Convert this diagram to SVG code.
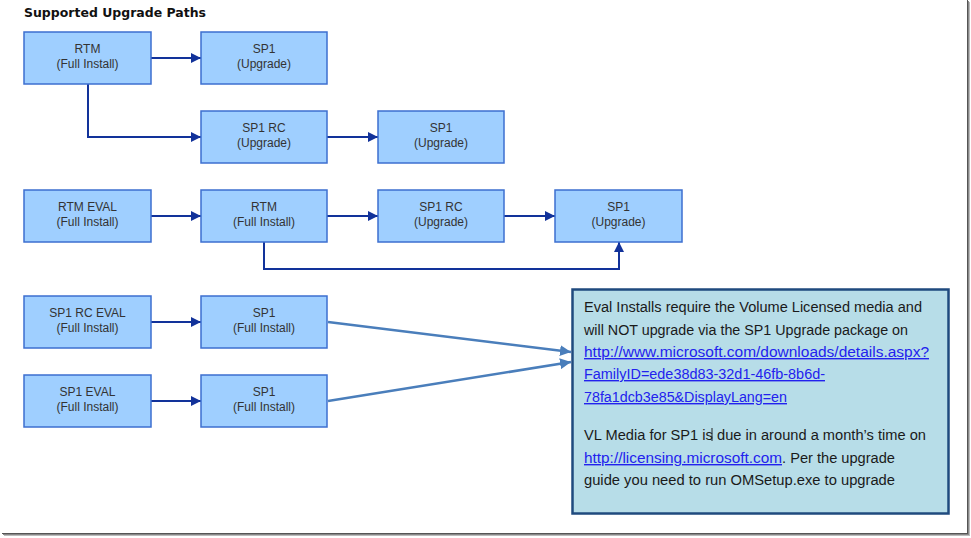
<svg xmlns="http://www.w3.org/2000/svg" width="971" height="538" viewBox="0 0 971 538">
<defs>
<marker id="ah" viewBox="0 0 10 10" refX="10" refY="5" markerWidth="10" markerHeight="10" markerUnits="userSpaceOnUse" orient="auto"><path d="M0,0 L10,5 L0,10 z" fill="#12329a"/></marker>
<marker id="ah2" viewBox="0 0 10 10" refX="10" refY="5" markerWidth="11" markerHeight="11" markerUnits="userSpaceOnUse" orient="auto"><path d="M0,0 L10,5 L0,10 z" fill="#4a7ebb"/></marker>
<style>
.box{fill:#9fcfff;stroke:#3d6fd0;stroke-width:1.5}
.lbl{font-family:"Liberation Sans",Arial,sans-serif;font-size:12px;fill:#333;text-anchor:middle}
.con{fill:none;stroke:#12329a;stroke-width:2;marker-end:url(#ah)}
.con2{fill:none;stroke:#4a7ebb;stroke-width:2.5;marker-end:url(#ah2)}
.note{font-family:"Liberation Sans",Arial,sans-serif;font-size:14px;fill:#1a1a1a}
.link{fill:#2222ee;text-decoration:underline}
</style>
</defs>
<rect width="971" height="538" fill="#fff"/>
<!-- frame -->
<g id="frame">
<line x1="967.5" y1="0" x2="967.5" y2="534" stroke="#555" stroke-width="1"/>
<line x1="968.5" y1="1" x2="968.5" y2="535" stroke="#888" stroke-width="1"/>
<line x1="969.5" y1="2" x2="969.5" y2="536" stroke="#bbb" stroke-width="1"/>
<line x1="2" y1="533.5" x2="968" y2="533.5" stroke="#555" stroke-width="1"/>
<line x1="3" y1="534.5" x2="969" y2="534.5" stroke="#888" stroke-width="1"/>
<line x1="4" y1="535.5" x2="970" y2="535.5" stroke="#bbb" stroke-width="1"/>
</g>
<text x="24" y="17" font-family="Verdana,'DejaVu Sans',sans-serif" font-size="13" font-weight="bold" fill="#111" textLength="182" lengthAdjust="spacingAndGlyphs">Supported Upgrade Paths</text>
<g id="connectors">
<path class="con" d="M151,58 H201"/>
<path class="con" d="M88,84 V137 H201"/>
<path class="con" d="M327,137 H378"/>
<path class="con" d="M151,216 H201"/>
<path class="con" d="M327,216 H378"/>
<path class="con" d="M504,216 H555"/>
<path class="con" d="M264,242 V269 H619 V242"/>
<path class="con" d="M151,322 H201"/>
<path class="con" d="M151,401 H201"/>
<path class="con2" d="M328,322 L571,352"/>
<path class="con2" d="M328,401 L571,362"/>
</g>
<g id="n1"><rect class="box" x="24" y="32" width="127" height="52"/><text class="lbl" x="87.5" y="53">RTM</text><text class="lbl" x="87.5" y="68">(Full Install)</text></g>
<g id="n2"><rect class="box" x="201" y="32" width="126" height="52"/><text class="lbl" x="264" y="53">SP1</text><text class="lbl" x="264" y="68">(Upgrade)</text></g>
<g id="n3"><rect class="box" x="201" y="111" width="126" height="52"/><text class="lbl" x="264" y="132">SP1 RC</text><text class="lbl" x="264" y="147">(Upgrade)</text></g>
<g id="n4"><rect class="box" x="378" y="111" width="126" height="52"/><text class="lbl" x="441" y="132">SP1</text><text class="lbl" x="441" y="147">(Upgrade)</text></g>
<g id="n5"><rect class="box" x="24" y="190" width="127" height="52"/><text class="lbl" x="87.5" y="211">RTM EVAL</text><text class="lbl" x="87.5" y="226">(Full Install)</text></g>
<g id="n6"><rect class="box" x="201" y="190" width="126" height="52"/><text class="lbl" x="264" y="211">RTM</text><text class="lbl" x="264" y="226">(Full Install)</text></g>
<g id="n7"><rect class="box" x="378" y="190" width="126" height="52"/><text class="lbl" x="441" y="211">SP1 RC</text><text class="lbl" x="441" y="226">(Upgrade)</text></g>
<g id="n8"><rect class="box" x="555" y="190" width="127" height="52"/><text class="lbl" x="618.5" y="211">SP1</text><text class="lbl" x="618.5" y="226">(Upgrade)</text></g>
<g id="n9"><rect class="box" x="24" y="296" width="127" height="52"/><text class="lbl" x="87.5" y="317">SP1 RC EVAL</text><text class="lbl" x="87.5" y="332">(Full Install)</text></g>
<g id="n10"><rect class="box" x="201" y="296" width="126" height="52"/><text class="lbl" x="264" y="317">SP1</text><text class="lbl" x="264" y="332">(Full Install)</text></g>
<g id="n11"><rect class="box" x="24" y="375" width="127" height="52"/><text class="lbl" x="87.5" y="396">SP1 EVAL</text><text class="lbl" x="87.5" y="411">(Full Install)</text></g>
<g id="n12"><rect class="box" x="201" y="375" width="126" height="52"/><text class="lbl" x="264" y="396">SP1</text><text class="lbl" x="264" y="411">(Full Install)</text></g>
<g id="note">
<rect x="572.5" y="289.5" width="376" height="224" fill="#b7dde8" stroke="#1f4a7e" stroke-width="2.5"/>
<text class="note" x="584" y="312" textLength="338" lengthAdjust="spacingAndGlyphs">Eval Installs require the Volume Licensed media and</text>
<text class="note" x="584" y="335" textLength="324" lengthAdjust="spacingAndGlyphs">will NOT upgrade via the SP1 Upgrade package on</text>
<text class="note link" x="584" y="357" textLength="345" lengthAdjust="spacingAndGlyphs">http://www.microsoft.com/downloads/details.aspx?</text>
<text class="note link" x="584" y="379" textLength="241" lengthAdjust="spacingAndGlyphs">FamilyID=ede38d83-32d1-46fb-8b6d-</text>
<text class="note link" x="584" y="402" textLength="203" lengthAdjust="spacingAndGlyphs">78fa1dcb3e85&amp;DisplayLang=en</text>
<text class="note" x="584" y="440" textLength="342" lengthAdjust="spacingAndGlyphs">VL Media for SP1 is due in around a month’s time on</text>
<line x1="712" y1="428" x2="712" y2="441" stroke="#222" stroke-width="1"/>
<text class="note link" x="584" y="463" textLength="198" lengthAdjust="spacingAndGlyphs">http://licensing.microsoft.com</text>
<text class="note" x="782" y="463" textLength="113" lengthAdjust="spacingAndGlyphs">. Per the upgrade</text>
<text class="note" x="584" y="485" textLength="311" lengthAdjust="spacingAndGlyphs">guide you need to run OMSetup.exe to upgrade</text>
</g>
</svg>
